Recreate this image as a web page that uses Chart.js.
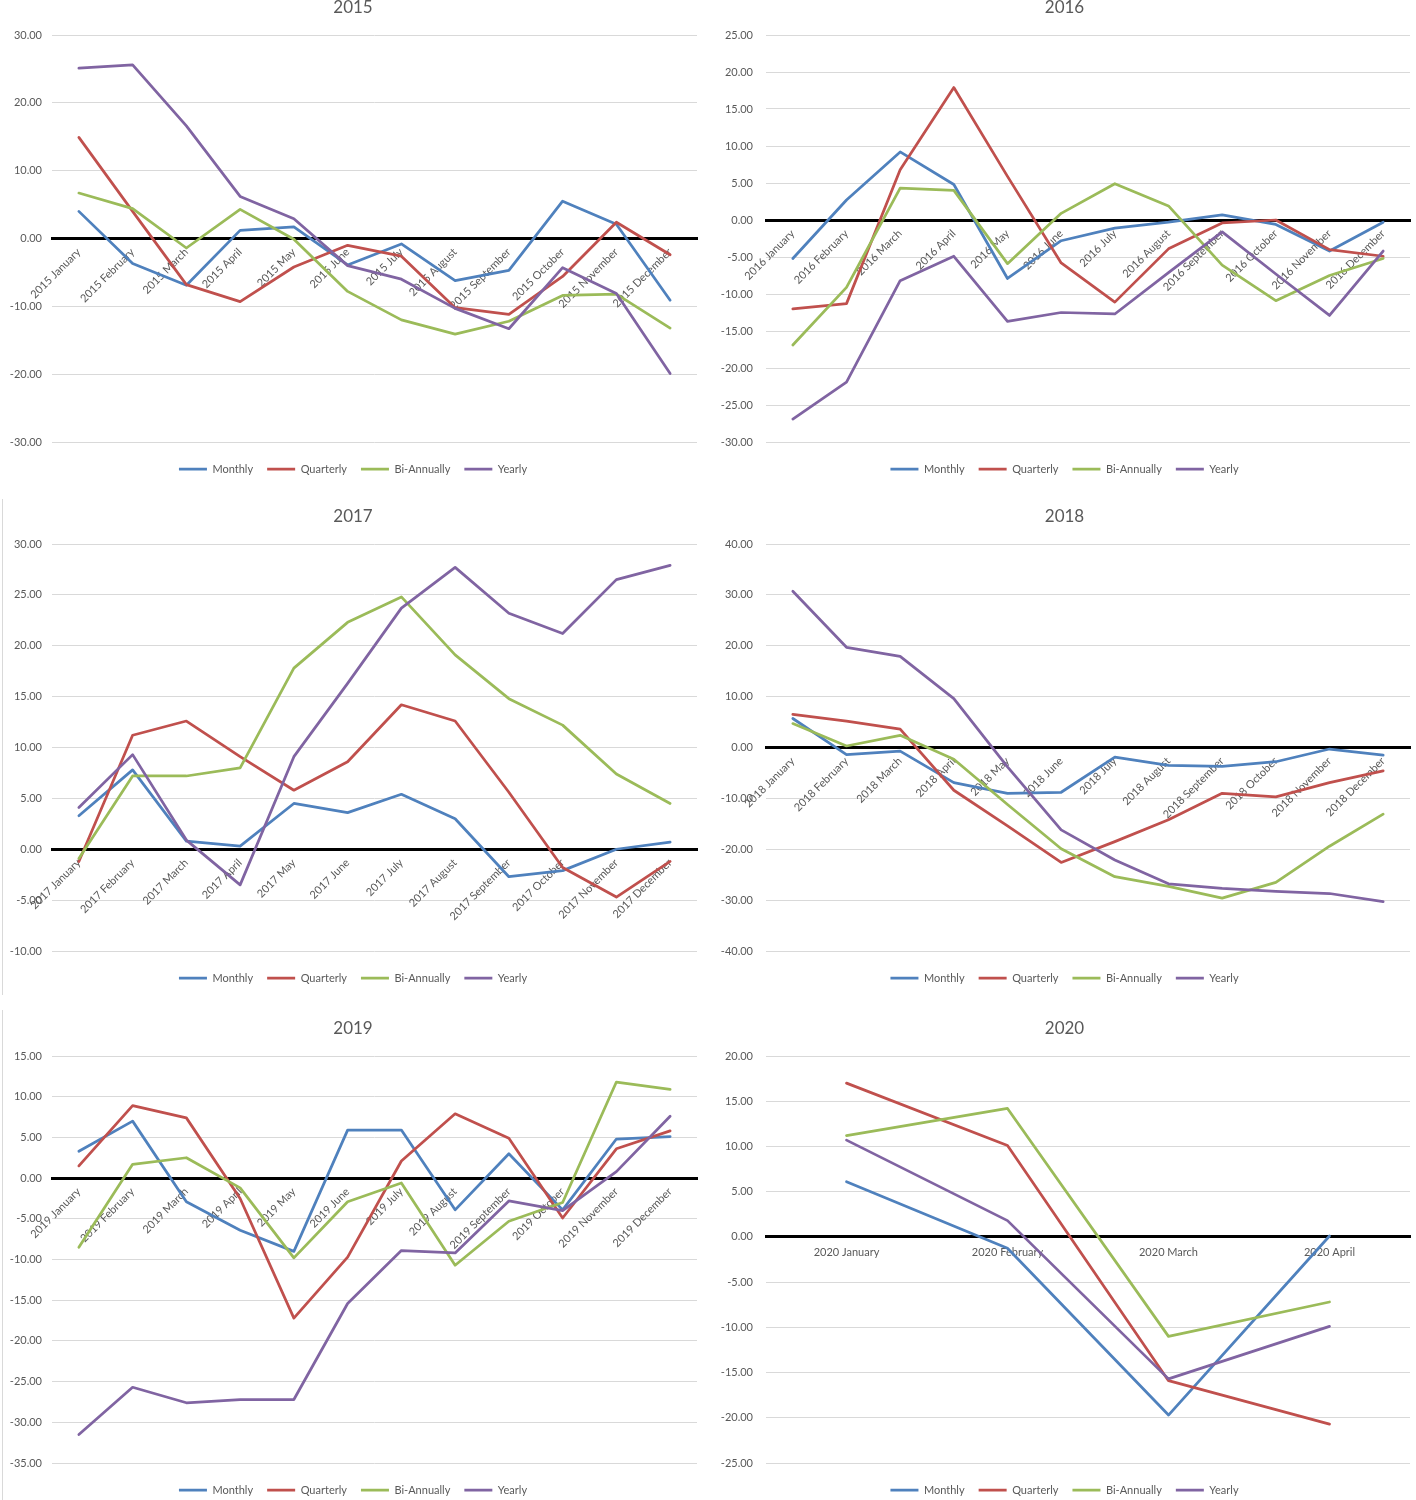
<!DOCTYPE html>
<html>
<head>
<meta charset="utf-8">
<title>Monthly / Quarterly / Bi-Annually / Yearly 2015-2020</title>
<script src="https://cdn.jsdelivr.net/npm/chart.js@4.4.1/dist/chart.umd.min.js"></script>
<style>
  html, body { margin: 0; padding: 0; background: #fff; overflow: hidden; }
  body { position: relative; width: 1416px; height: 1500px; }
  canvas { position: absolute; }
  .edge { position: absolute; left: 2px; width: 0; border-left: 1px solid #d9d9d9; }
</style>
</head>
<body>
<div class="edge" style="top:499px;height:496px"></div>
<div class="edge" style="top:1010px;height:490px"></div>
<canvas id="c2015"></canvas>
<canvas id="c2016"></canvas>
<canvas id="c2017"></canvas>
<canvas id="c2018"></canvas>
<canvas id="c2019"></canvas>
<canvas id="c2020"></canvas>
<script>
// data
const monthNames = ['January', 'February', 'March', 'April', 'May', 'June',
  'July', 'August', 'September', 'October', 'November', 'December'];
const labels2015 = monthNames.map(m => '2015 ' + m);
const labels2016 = monthNames.map(m => '2016 ' + m);
const labels2017 = monthNames.map(m => '2017 ' + m);
const labels2018 = monthNames.map(m => '2018 ' + m);
const labels2019 = monthNames.map(m => '2019 ' + m);
const labels2020 = ['2020 January', '2020 February', '2020 March', '2020 April'];

const monthly2015 = [4.0, -3.7, -6.9, 1.2, 1.7, -3.9, -0.8, -6.2, -4.7, 5.5, 2.1, -9.1];
const quarterly2015 = [14.9, 4.0, -6.8, -9.3, -4.2, -1.0, -2.6, -10.2, -11.2, -5.6, 2.4, -2.4];
const biAnnually2015 = [6.7, 4.4, -1.4, 4.3, -0.1, -7.8, -12.0, -14.1, -12.2, -8.4, -8.2, -13.2];
const yearly2015 = [25.1, 25.6, 16.6, 6.2, 2.9, -4.0, -6.0, -10.3, -13.3, -4.3, -8.1, -19.9];

const monthly2016 = [-5.2, 2.7, 9.2, 4.8, -7.9, -2.8, -1.1, -0.3, 0.7, -0.6, -4.2, -0.3];
const quarterly2016 = [-12.0, -11.3, 6.8, 17.9, 5.9, -5.8, -11.1, -3.9, -0.4, 0.0, -4.0, -4.9];
const biAnnually2016 = [-16.9, -9.1, 4.3, 4.0, -5.9, 0.9, 4.9, 1.9, -6.1, -10.9, -7.5, -5.2];
const yearly2016 = [-26.9, -21.9, -8.2, -4.9, -13.7, -12.5, -12.7, -7.1, -1.6, -7.3, -12.9, -4.2];

const monthly2017 = [3.3, 7.8, 0.8, 0.3, 4.5, 3.6, 5.4, 3.0, -2.7, -2.1, 0.0, 0.7];
const quarterly2017 = [-1.2, 11.2, 12.6, 9.1, 5.8, 8.6, 14.2, 12.6, 5.6, -1.8, -4.7, -1.2];
const biAnnually2017 = [-0.9, 7.2, 7.2, 8.0, 17.8, 22.3, 24.8, 19.1, 14.8, 12.2, 7.4, 4.5];
const yearly2017 = [4.1, 9.3, 0.9, -3.5, 9.1, 16.3, 23.7, 27.7, 23.2, 21.2, 26.5, 27.9];

const monthly2018 = [5.7, -1.4, -0.7, -6.9, -9.0, -8.8, -1.9, -3.5, -3.7, -2.8, -0.3, -1.5];
const quarterly2018 = [6.5, 5.2, 3.6, -8.4, -15.4, -22.6, -18.5, -14.2, -9.0, -9.7, -6.9, -4.6];
const biAnnually2018 = [4.7, 0.3, 2.4, -2.3, -11.2, -19.9, -25.4, -27.3, -29.6, -26.5, -19.4, -13.1];
const yearly2018 = [30.7, 19.7, 17.9, 9.6, -3.8, -16.2, -22.1, -26.8, -27.7, -28.3, -28.7, -30.3];

const monthly2019 = [3.3, 7.0, -2.9, -6.4, -9.0, 5.9, 5.9, -3.9, 3.0, -3.9, 4.8, 5.1];
const quarterly2019 = [1.5, 8.9, 7.4, -2.5, -17.2, -9.7, 2.1, 7.9, 4.9, -4.9, 3.6, 5.8];
const biAnnually2019 = [-8.5, 1.7, 2.5, -1.2, -9.8, -2.9, -0.6, -10.7, -5.3, -3.0, 11.8, 10.9];
const yearly2019 = [-31.5, -25.7, -27.6, -27.2, -27.2, -15.4, -8.9, -9.2, -2.8, -4.0, 0.8, 7.6];

const monthly2020 = [6.1, -1.25, -19.7, 0.1];
const quarterly2020 = [17.0, 10.1, -15.9, -20.7];
const biAnnually2020 = [11.2, 14.2, -11.0, -7.2];
const yearly2020 = [10.7, 1.8, -15.7, -9.9];

// y axis ranges [min, max, step]
const yRange2015 = [-30, 30, 10];
const yRange2016 = [-30, 25, 5];
const yRange2017 = [-10, 30, 5];
const yRange2018 = [-40, 40, 10];
const yRange2019 = [-35, 15, 5];
const yRange2020 = [-25, 20, 5];

const seriesNames = ['Monthly', 'Quarterly', 'Bi-Annually', 'Yearly'];
const seriesColors = ['#4F81BD', '#C0504D', '#9BBB59', '#8064A2'];

Chart.defaults.font.family = "Lato, 'Liberation Sans', sans-serif";
Chart.defaults.color = '#595959';

const panels = [
  { id: 'c2015', title: '2015', labels: labels2015, series: [monthly2015, quarterly2015, biAnnually2015, yearly2015], range: yRange2015, x: 0, y: -12 },
  { id: 'c2016', title: '2016', labels: labels2016, series: [monthly2016, quarterly2016, biAnnually2016, yearly2016], range: yRange2016, x: 709, y: -12 },
  { id: 'c2017', title: '2017', labels: labels2017, series: [monthly2017, quarterly2017, biAnnually2017, yearly2017], range: yRange2017, x: 0, y: 497 },
  { id: 'c2018', title: '2018', labels: labels2018, series: [monthly2018, quarterly2018, biAnnually2018, yearly2018], range: yRange2018, x: 709, y: 497 },
  { id: 'c2019', title: '2019', labels: labels2019, series: [monthly2019, quarterly2019, biAnnually2019, yearly2019], range: yRange2019, x: 0, y: 1009 },
  { id: 'c2020', title: '2020', labels: labels2020, series: [monthly2020, quarterly2020, biAnnually2020, yearly2020], range: yRange2020, x: 709, y: 1009 }
];

function makeChart(p) {
  const canvas = document.getElementById(p.id);
  const isRight = p.x > 0;
  const rotate = p.labels.length > 4;
  canvas.width = isRight ? 707 : 702;
  canvas.height = 508;
  canvas.style.left = (isRight ? p.x : 4) + 'px';
  canvas.style.top = p.y + 'px';

  return new Chart(canvas, {
    type: 'line',
    data: {
      labels: p.labels,
      datasets: p.series.map((vals, i) => ({
        label: seriesNames[i],
        data: vals,
        borderColor: seriesColors[i],
        backgroundColor: seriesColors[i],
        borderWidth: 2.75,
        pointRadius: 0,
        pointHoverRadius: 0,
        tension: 0,
        fill: false,
        borderCapStyle: 'round',
        borderJoinStyle: 'round',
        order: 4 - i // later series on top, like the original
      }))
    },
    options: {
      responsive: false,
      animation: false,
      events: [],
      layout: { padding: { left: isRight ? 10 : 5, right: isRight ? 6 : 9, top: 0, bottom: 11.5 } },
      plugins: {
        title: {
          display: true,
          text: p.title,
          color: '#595959',
          font: { size: 17, weight: 'normal' },
          padding: { top: 9.3, bottom: 17.3 }
        },
        legend: {
          position: 'bottom',
          labels: {
            usePointStyle: true,
            pointStyle: 'line',
            pointStyleWidth: 28,
            color: '#595959',
            font: { size: 11 },
            padding: 14,
            sort: (a, b) => a.datasetIndex - b.datasetIndex
          },
          // empty title only used as a spacer above the legend row
          title: { display: true, text: '', font: { size: 5, lineHeight: 1 }, padding: { top: 0, bottom: 2.5 } }
        },
        tooltip: { enabled: false }
      },
      scales: {
        x: {
          type: 'category',
          offset: true,
          position: { y: 0 },
          grid: { display: false, drawTicks: false },
          border: { display: true, color: '#000000', width: 3 },
          ticks: {
            autoSkip: false,
            minRotation: rotate ? 45 : 0,
            maxRotation: rotate ? 45 : 0,
            padding: rotate ? 7 : 9.4,
            color: '#595959',
            font: { size: 11 }
          },
          afterFit: s => { s.height = 0; }
        },
        y: {
          position: 'left',
          min: p.range[0],
          max: p.range[1],
          grid: {
            drawTicks: false,
            lineWidth: 1,
            color: c => (c.tick && c.tick.value === 0) ? 'rgba(0,0,0,0)' : '#d9d9d9'
          },
          border: { display: false },
          ticks: {
            stepSize: p.range[2],
            padding: isRight ? 13 : 10,
            color: '#595959',
            font: { size: 11 },
            callback: v => Number(v).toFixed(2)
          },
          afterFit: s => { s.width = isRight ? 47 : 43; }
        }
      }
    }
  });
}

panels.forEach(makeChart);
</script>
</body>
</html>
